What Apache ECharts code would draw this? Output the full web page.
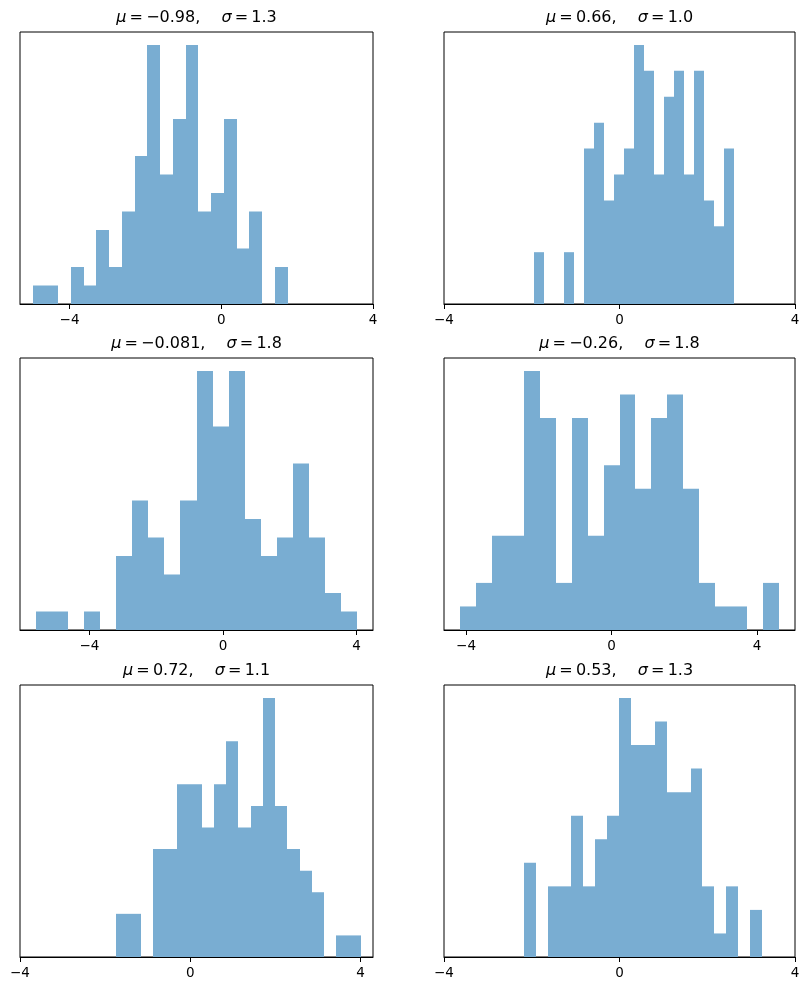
<!DOCTYPE html>
<html>
<head>
<meta charset="utf-8">
<script src="https://cdn.jsdelivr.net/npm/echarts@6/dist/echarts.min.js"></script>
<style>
  html, body { margin: 0; padding: 0; background: #fff; }
  #chart { width: 809px; height: 990px; }
</style>
</head>
<body>
<div id="chart"></div>
<script>
// bin counts (20 bins each), the data range the bins span, and the x limits
const counts1 = [1, 1, 0, 2, 1, 4, 2, 5, 8, 14, 7, 10, 14, 5, 6, 10, 3, 5, 0, 2]
const counts2 = [2, 0, 0, 2, 0, 6, 7, 4, 5, 6, 10, 9, 5, 8, 9, 5, 9, 4, 3, 6]
const counts3 = [1, 1, 0, 1, 0, 4, 7, 5, 3, 7, 14, 11, 14, 6, 4, 5, 9, 5, 2, 1]
const counts4 = [1, 2, 4, 4, 11, 9, 2, 9, 4, 7, 10, 6, 9, 10, 6, 2, 1, 1, 0, 2]
const counts5 = [2, 2, 0, 5, 5, 8, 8, 6, 8, 10, 6, 7, 12, 7, 5, 4, 3, 0, 1, 1]
const counts6 = [4, 0, 3, 3, 6, 3, 5, 6, 11, 9, 9, 10, 7, 7, 8, 3, 1, 3, 0, 2]

const range1 = [-4.971, 1.748]
const range2 = [-1.953, 2.604]
const range3 = [-5.596, 4.010]
const range4 = [-4.168, 4.607]
const range5 = [-1.743, 4.003]
const range6 = [-2.180, 3.248]

const xlim1 = [-5.307, 4]
const xlim2 = [-4, 4]
const xlim3 = [-6.076, 4.490]
const xlim4 = [-4.607, 5.046]
const xlim5 = [-4, 4.290]
const xlim6 = [-4, 4]

const muLabels = ['\u22120.98', '0.66', '\u22120.081', '\u22120.26', '0.72', '0.53']
const sigmaLabels = ['1.3', '1.0', '1.8', '1.8', '1.1', '1.3']
const tickValues = [-4, 0, 4]

const panels = [
  { counts: counts1, range: range1, xlim: xlim1 },
  { counts: counts2, range: range2, xlim: xlim2 },
  { counts: counts3, range: range3, xlim: xlim3 },
  { counts: counts4, range: range4, xlim: xlim4 },
  { counts: counts5, range: range5, xlim: xlim5 },
  { counts: counts6, range: range6, xlim: xlim6 }
]

const colLeft = [20, 444]
const colWidth = [353, 351]
const rowTop = [32, 358, 685]
const rowHeight = 272

const chart = echarts.init(document.getElementById('chart'))

let grid = []
let xAxis = []
let yAxis = []
let series = []
let title = []

panels.forEach((p, i) => {
  const col = i % 2
  const row = Math.floor(i / 2)
  const left = colLeft[col]
  const top = rowTop[row]
  grid.push({
    left: left,
    top: top,
    width: colWidth[col],
    height: rowHeight,
    show: true,
    borderColor: '#000',
    borderWidth: 1,
    containLabel: false
  })
  xAxis.push({
    type: 'value',
    gridIndex: i,
    min: p.xlim[0],
    max: p.xlim[1],
    z: 5,
    splitLine: { show: false },
    axisLine: { show: true, onZero: false, lineStyle: { color: '#000', width: 1 } },
    axisTick: {
      show: true,
      inside: false,
      length: 5,
      customValues: tickValues,
      lineStyle: { color: '#000', width: 1 }
    },
    axisLabel: {
      customValues: tickValues,
      margin: 9,
      color: '#000',
      fontFamily: 'DejaVu Sans',
      fontSize: 13.5,
      formatter: v => (v < 0 ? '\u2212' + (-v) : String(v))
    }
  })
  const maxCount = Math.max(...p.counts)
  yAxis.push({
    type: 'value',
    gridIndex: i,
    min: 0,
    max: maxCount * 1.05,
    axisLine: { show: false },
    axisTick: { show: false },
    axisLabel: { show: false },
    splitLine: { show: false }
  })
  const binWidth = (p.range[1] - p.range[0]) / p.counts.length
  const data = p.counts.map((c, k) => [p.range[0] + k * binWidth, p.range[0] + (k + 1) * binWidth, c])
  series.push({
    type: 'custom',
    xAxisIndex: i,
    yAxisIndex: i,
    data: data,
    renderItem: (params, api) => {
      const a = api.coord([api.value(0), 0])
      const b = api.coord([api.value(1), api.value(2)])
      const x0 = Math.round(a[0])
      const x1 = Math.round(b[0])
      return {
        type: 'rect',
        shape: { x: x0, y: b[1], width: x1 - x0, height: a[1] - b[1] },
        style: { fill: '#79add2' }
      }
    }
  })
  title.push({
    text: '{i|\u03bc}\u2009=\u2009' + muLabels[i] + ', \u2003{i|\u03c3}\u2009=\u2009' + sigmaLabels[i],
    left: left + colWidth[col] / 2,
    top: top - 22,
    textAlign: 'center',
    padding: 0,
    textStyle: {
      color: '#000',
      fontFamily: 'DejaVu Sans',
      fontWeight: 'normal',
      fontSize: 16,
      rich: {
        i: { fontFamily: 'DejaVu Sans', fontStyle: 'italic', fontSize: 16, color: '#000' }
      }
    }
  })
})

chart.setOption({
  animation: false,
  title: title,
  grid: grid,
  xAxis: xAxis,
  yAxis: yAxis,
  series: series
})
</script>
</body>
</html>
